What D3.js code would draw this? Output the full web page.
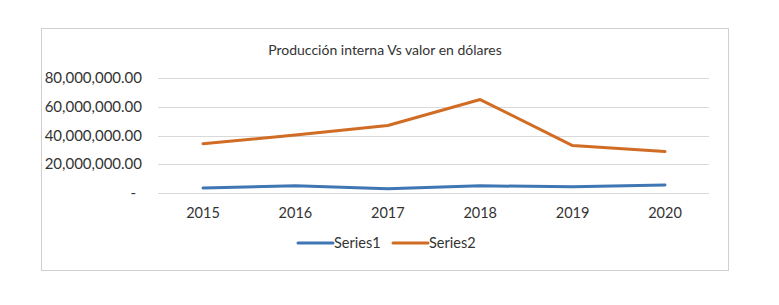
<!DOCTYPE html>
<html>
<head>
<meta charset="utf-8">
<script src="https://cdn.jsdelivr.net/npm/d3@7"></script>
<style>
  body { margin: 0; background: #fff; }
  text { font-family: Lato, "Open Sans", sans-serif; fill: #333; }
</style>
</head>
<body>
<svg id="graph"></svg>
<script>
// chart data
var years = ["2015", "2016", "2017", "2018", "2019", "2020"]
var series1 = [3500000, 5000000, 3000000, 5000000, 4300000, 5600000]
var series2 = [34300000, 40300000, 47000000, 65000000, 33000000, 28800000]
var seriesNames = ["Series1", "Series2"]
var yTicks = [0, 20000000, 40000000, 60000000, 80000000]
var title = "Producción interna Vs valor en dólares"

var colors = ["#3f77b5", "#d16c24"]

function fmt(v){
    if (v == 0) return "-"
    return d3.format(",.2f")(v)
}

window.onload = function(){
    const svg = d3.select("#graph")
        .attr("width", 779)
        .attr("height", 305)

    // chart border
    svg.append("rect")
        .attr("x", 41.5).attr("y", 28.5)
        .attr("width", 687).attr("height", 242)
        .attr("fill", "#fff")
        .attr("stroke", "#d0d0d0")
        .attr("stroke-width", 1)

    svg.append("text")
        .attr("x", 385).attr("y", 55)
        .attr("text-anchor", "middle")
        .attr("font-size", "14px")
        .text(title)

    const xScale = d3.scalePoint().domain(years).range([203, 665])
    const yScale = d3.scaleLinear().domain([0, 80000000]).range([193, 78])

    // gridlines
    svg.selectAll("line.grid").data(yTicks).enter().append("line")
        .attr("class", "grid")
        .attr("x1", 158).attr("x2", 709)
        .attr("y1", d => Math.round(yScale(d)) + 0.5)
        .attr("y2", d => Math.round(yScale(d)) + 0.5)
        .attr("stroke", "#d9d9d9")
        .attr("stroke-width", 1)

    // y labels
    svg.selectAll("text.ylab").data(yTicks).enter().append("text")
        .attr("class", "ylab")
        .attr("x", d => d == 0 ? 136 : 142)
        .attr("y", d => yScale(d) + 5)
        .attr("text-anchor", "end")
        .attr("font-size", "15px")
        .text(fmt)

    // x labels
    svg.selectAll("text.xlab").data(years).enter().append("text")
        .attr("class", "xlab")
        .attr("x", d => xScale(d))
        .attr("y", 218)
        .attr("text-anchor", "middle")
        .attr("font-size", "14.5px")
        .text(d => d)

    const line = d3.line()
        .x((d, i) => xScale(years[i]))
        .y(d => yScale(d))

    var all = [series1, series2]
    svg.selectAll("path.series").data(all).enter().append("path")
        .attr("class", "series")
        .attr("d", d => line(d))
        .attr("fill", "none")
        .attr("stroke", (d, i) => colors[i])
        .attr("stroke-width", 3)
        .attr("stroke-linejoin", "round")
        .attr("stroke-linecap", "round")

    // legend
    var legX = [298, 393]
    var leg = svg.selectAll("g.leg").data(seriesNames).enter().append("g")
        .attr("class", "leg")
        .attr("transform", (d, i) => "translate(" + legX[i] + ",243)")
    leg.append("line")
        .attr("x1", 0).attr("x2", 35)
        .attr("y1", 0).attr("y2", 0)
        .attr("stroke", (d, i) => colors[i])
        .attr("stroke-width", 3)
        .attr("stroke-linecap", "round")
    leg.append("text")
        .attr("x", 36).attr("y", 5)
        .attr("font-size", "14.5px")
        .text(d => d)
}
</script>
</body>
</html>
